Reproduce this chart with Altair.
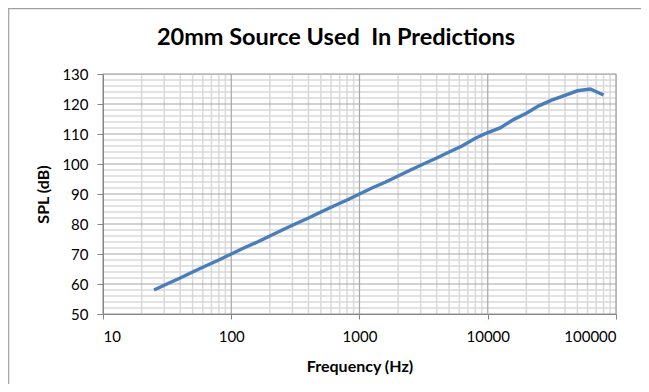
import altair as alt
import pandas as pd

freq = [25, 31.5, 40, 50, 63, 80, 100, 125, 160, 200, 250, 315, 400, 500, 630, 800,
        1000, 1250, 1600, 2000, 2500, 3150, 4000, 5000, 6300, 8000, 10000, 12500,
        16000, 20000, 25000, 31500, 40000, 50000, 63000, 80000]
spl = [58, 60, 62, 64, 66, 68, 70, 72, 74, 76, 78, 80, 82, 84, 86, 88,
       90, 92, 94, 96, 98, 100, 102, 104, 106, 108.6, 110.5, 112,
       114.9, 116.9, 119.4, 121.3, 122.9, 124.4, 125, 123]

x_ticks = [10, 100, 1000, 10000, 100000]
y_ticks = [50, 60, 70, 80, 90, 100, 110, 120, 130]
x_minor = [m * d for d in [10, 100, 1000, 10000] for m in range(2, 10)]
y_minor = [v for v in range(52, 130, 2) if v % 10 != 0]
title_text = "20mm Source Used\u00a0 In Predictions"

FONT = "Lato"
W, H = 513, 240

xs = alt.Scale(type="log", domain=[10, 100000])
ys = alt.Scale(domain=[50, 130])

xaxis = alt.Axis(values=x_ticks, format="d", title="Frequency (Hz)",
                 grid=False, tickSize=5, labelPadding=10,
                 titlePadding=14, tickColor="#868686",
                 domainColor="#868686", zindex=1)
yaxis = alt.Axis(values=y_ticks, title="SPL (dB)", grid=False,
                 tickSize=6, labelPadding=9, titlePadding=10,
                 tickColor="#868686", domainColor="#868686", zindex=1)

data = pd.DataFrame({"f": freq, "spl": spl})

frame = alt.Chart(pd.DataFrame({"a": [0]})).mark_rect(
    fillOpacity=0, stroke="#a0a0a0", strokeWidth=1.2
).encode(x=alt.value(-94.3), x2=alt.value(700), y=alt.value(-65.3), y2=alt.value(400))

title = alt.Chart(pd.DataFrame({"t": [title_text]})).mark_text(
    font=FONT, fontSize=23.5, fontWeight="bold", color="#000000",
    align="center", baseline="alphabetic"
).encode(text="t:N", x=alt.value(233), y=alt.value(-29))

xminor = alt.Chart(pd.DataFrame({"f": x_minor})).mark_rule(
    color="#d9d9d9", strokeWidth=1.5
).encode(x=alt.X("f:Q", scale=xs, axis=xaxis))
yminor = alt.Chart(pd.DataFrame({"v": y_minor})).mark_rule(
    color="#d9d9d9", strokeWidth=1.5
).encode(y=alt.Y("v:Q", scale=ys, axis=yaxis))
xmajor = alt.Chart(pd.DataFrame({"f": x_ticks})).mark_rule(
    color="#a6a6a6", strokeWidth=1.2
).encode(x=alt.X("f:Q", scale=xs, axis=xaxis))
ymajor = alt.Chart(pd.DataFrame({"v": y_ticks})).mark_rule(
    color="#a6a6a6", strokeWidth=1.2
).encode(y=alt.Y("v:Q", scale=ys, axis=yaxis))

line = alt.Chart(data).mark_line(color="#4a7ebb", strokeWidth=3.5).encode(
    x=alt.X("f:Q", scale=xs, axis=xaxis),
    y=alt.Y("spl:Q", scale=ys, axis=yaxis),
)

chart = alt.layer(xminor, yminor, xmajor, ymajor, line, frame, title).properties(
    width=W, height=H,
    autosize=alt.AutoSizeParams(type="none"),
    padding={"left": 95, "top": 66, "right": 25, "bottom": 70},
).configure_view(stroke="#c8c8c8", strokeWidth=1.2).configure_axis(
    labelFont=FONT, labelFontSize=15, labelColor="#000000",
    titleFont=FONT, titleFontSize=16, titleFontWeight="bold", titleColor="#000000",
)

chart.save("out.html", embed_options={"renderer": "svg", "actions": False})
